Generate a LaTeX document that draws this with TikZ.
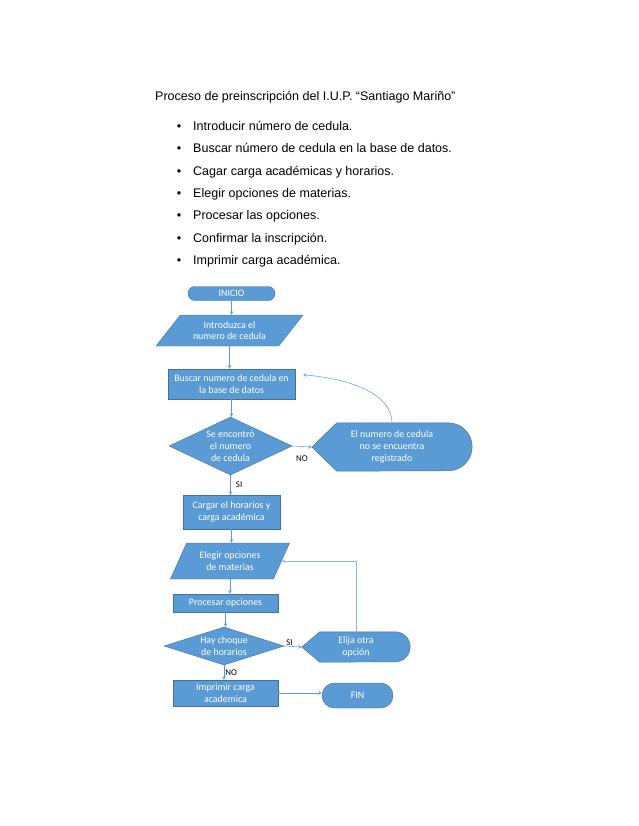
\documentclass[tikz,border=0pt]{standalone}
\usepackage{fontspec}
\setmainfont{Liberation Sans}
\newfontfamily\calibri{Carlito}
\usepackage{tikz}
\usetikzlibrary{shapes,arrows}
\usetikzlibrary{positioning,calc}
\usetikzlibrary{backgrounds}
\usepackage{xcolor}

\definecolor{boxfill}{HTML}{5B9BD5}
\definecolor{boxline}{HTML}{41719C}
\definecolor{linkcol}{HTML}{5B9BD5}

\def\pu{0.959pt}

\tikzset{
  box/.style={rectangle, fill=boxfill, draw=boxline, line width=.4pt, text=white,
    font=\calibri\fontsize{9.5}{11.2}\selectfont, align=center, inner sep=0pt},
  term/.style={box, rounded rectangle},
  io/.style={box, trapezium, trapezium stretches=true},
  decide/.style={box, diamond},
  disp/.style={text=white, font=\calibri\fontsize{9.5}{11.2}\selectfont,
    align=center, inner sep=0pt},
  link/.style={draw=linkcol, line width=.5pt, ->, >=stealth},
  lbl/.style={font=\calibri\fontsize{8.5}{10}\selectfont, text=black, inner sep=0pt},
}

% display shape behind a node: name, point depth, end radius
\newcommand{\dispbg}[3]{%
  \begin{scope}[on background layer]
    \filldraw[fill=boxfill, draw=boxline, line width=.4pt] (#1.west)
      -- ($(#1.north west)+(#2,0)$) -- ($(#1.north east)+(-#3,0)$)
      arc[start angle=90, end angle=-90, radius=#3]
      -- ($(#1.south west)+(#2,0)$) -- cycle;
  \end{scope}}

\begin{document}
\begin{tikzpicture}[x=\pu,y=-\pu]
  \useasboundingbox (0,0) rectangle (638,826);

  % heading and list
  \node[anchor=base west, inner sep=0pt, font=\fontsize{12}{14}\selectfont] (title)
    at (155,100.7) {Proceso de preinscripción del I.U.P. “Santiago Mariño”};
  \foreach \t [count=\i] in {Introducir número de cedula.,
      Buscar número de cedula en la base de datos.,
      Cagar carga académicas y horarios.,
      Elegir opciones de materias.,
      Procesar las opciones.,
      Confirmar la inscripción.,
      Imprimir carga académica.} {
    \node[anchor=base, inner sep=0pt, font=\fontsize{12}{14}\selectfont] (dot\i)
      at (179,{130.7+(\i-1)*22.3}) {\textbullet};
    \node[anchor=base west, inner sep=0pt, font=\fontsize{12}{14}\selectfont] (item\i)
      at (193,{130.7+(\i-1)*22.3}) {\t};
  }

  % flowchart
  \node[term, minimum width=87*\pu, minimum height=14*\pu] (inicio) at (231.5,293.5) {INICIO};
  \node[io, trapezium left angle=46, trapezium right angle=134,
    minimum width=147*\pu, minimum height=31*\pu] (intro) at (229.5,330.5)
    {Introduzca el\\numero de cedula};
  \node[box, minimum width=127*\pu, minimum height=30*\pu] (buscar) at (231.5,384)
    {Buscar numero de cedula en\\la base de datos};
  \node[decide, aspect=2.1, minimum width=123*\pu, minimum height=58*\pu] (enc) at (230.5,446)
    {Se encontró\\el numero\\de cedula};
  \node[disp, minimum width=160*\pu, minimum height=48*\pu] (noreg) at (392,447)
    {El numero de cedula\\no se encuentra\\registrado};
  \dispbg{noreg}{25}{23pt}
  \node[box, minimum width=97*\pu, minimum height=34*\pu] (cargar) at (231.5,512)
    {Cargar el horarios y\\carga académica};
  \node[io, trapezium left angle=58.6, trapezium right angle=121.4,
    minimum width=120*\pu, minimum height=36*\pu] (elegir) at (230,561)
    {Elegir opciones\\de materias};
  \node[box, minimum width=105*\pu, minimum height=18*\pu] (procesar) at (225.5,603)
    {Procesar opciones};
  \node[decide, aspect=3.2, minimum width=120*\pu, minimum height=38*\pu] (choque) at (224,646)
    {Hay choque\\de horarios};
  \node[disp, minimum width=108*\pu, minimum height=30*\pu] (elija) at (356,647)
    {Elija otra\\opción};
  \dispbg{elija}{18}{14.4pt}
  \node[box, minimum width=105*\pu, minimum height=26*\pu] (imprimir) at (225.5,693)
    {Imprimir carga\\academica};
  \node[term, minimum width=71*\pu, minimum height=25*\pu] (fin) at (357.5,695.5) {FIN};

  % connectors
  \draw[link] (inicio.south) -- (inicio.south |- intro.north);
  \draw[link] (intro.south) -- (intro.south |- buscar.north);
  \draw[link] (buscar.south) -- (buscar.south |- enc.north);
  \draw[link] (enc.east) -- node[lbl, below=9pt] {NO} (noreg.west);
  \coordinate (back) at ($(buscar.north east)+(8,6)$);
  \draw[link] (noreg.north) .. controls +(0,-30) and +(45,4) .. (back);
  \draw[link] (enc.south) -- node[lbl, right=5pt] {SI} (enc.south |- cargar.north);
  \draw[link] (cargar.south) -- (cargar.south |- elegir.north);
  \draw[link] (elegir.south) -- (elegir.south |- procesar.north);
  \draw[link] (procesar.south) -- (procesar.south |- choque.north);
  \draw[link] (choque.east) -- node[lbl, pos=.3, above=0pt] {SI} (elija.west);
  \draw[link, draw=linkcol!70] (elija.north) |- (elegir.east);
  \draw[link] (choque.south) -- node[lbl, right=1pt] {NO} (choque.south |- imprimir.north);
  \draw[link] (imprimir.east) -- (imprimir.east -| fin.west);

\end{tikzpicture}
\end{document}
